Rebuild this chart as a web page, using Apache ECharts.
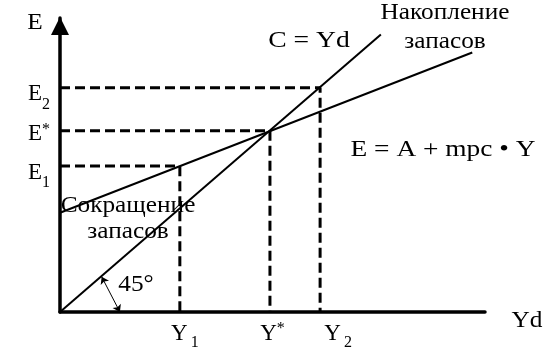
<!DOCTYPE html>
<html>
<head>
<meta charset="utf-8">
<script src="https://cdn.jsdelivr.net/npm/echarts@6/dist/echarts.min.js"></script>
<style>
  html, body { margin: 0; padding: 0; background: #fff; }
  #chart { width: 551px; height: 352px; }
</style>
</head>
<body>
<div id="chart"></div>
<script>
// income levels on the Yd axis: Y1, Y*, Y2
const incomeTicks = [28.2, 49.4, 61.2];
const incomeNames = ['Y1', 'Y*', 'Y2'];
// spending levels on the E axis: E1, E*, E2
const spendTicks = [39.7, 49.3, 61];
const spendNames = ['E1', 'E*', 'E2'];
// 45 degree line C = Yd (end points)
const cLineX = [0, 75.5];
const cLineY = [0, 75.5];
// planned spending line E = A + mpc * Y (end points)
const eLineX = [0, 97];
const eLineY = [27, 70.6];
// the little 45° angle arrow (from the C line down to the axis)
const angleArrow = [[9.8, 9.6], [14.1, 0]];

const FONT = '"Liberation Serif", "Times New Roman", serif';
const chart = echarts.init(document.getElementById('chart'));

const pairs = (xs, ys) => xs.map((x, i) => [x, ys[i]]);

// dashed guide lines: from the E axis across, then down to the Yd axis
const guides = spendTicks.map((e, i) => ({
  type: 'line',
  data: [[0, e], [incomeTicks[i], e], [incomeTicks[i], 0]],
  showSymbol: false,
  lineStyle: { color: '#000', width: 3, type: [10, 5] },
  silent: true
}));

const xLabel = {
  Y1: '{xa|Y}{xs|1}',
  'Y*': '{xb|Y}{xp|*}',
  Y2: '{xc|Y}{xs|2}'
};
const yLabel = {
  E1: '{ml|E}{sb|1}',
  'E*': '{mh|E}{sp|*}',
  E2: '{ml|E}{sb|2}'
};
const yRich = {
  // E with a subscript
  ml: { fontFamily: FONT, fontSize: 23, lineHeight: 18, verticalAlign: 'top', padding: [4, 0, 16, 0] },
  sb: { fontFamily: FONT, fontSize: 16, lineHeight: 10, verticalAlign: 'top', padding: [18, 0, 10, 0] },
  // E with a superscript
  mh: { fontFamily: FONT, fontSize: 23, lineHeight: 18, verticalAlign: 'top', padding: [1, 0, 23, 0] },
  sp: { fontFamily: FONT, fontSize: 16, lineHeight: 12, verticalAlign: 'top', padding: [0, 0, 30, 0] }
};

// E1 and E2 sit on the main E axis, E* on an overlaid twin so none get hidden
const yAxisFor = (values, showLine) => ({
  type: 'value',
  min: 0,
  max: 80,
  position: 'left',
  splitLine: { show: false },
  axisTick: { show: false },
  axisLine: {
    show: showLine,
    onZero: false,
    symbol: ['none', 'triangle'],
    symbolSize: [18, 18],
    symbolOffset: [0, -8],
    lineStyle: { color: '#000', width: 3.5 }
  },
  axisLabel: {
    customValues: values,
    hideOverlap: false,
    showMinLabel: true,
    showMaxLabel: true,
    margin: 10,
    color: '#000',
    fontFamily: FONT,
    formatter: v => yLabel[spendNames[spendTicks.indexOf(v)]],
    rich: yRich
  }
});

const option = {
  animation: false,
  grid: { left: 60, right: 66, top: 18, bottom: 40 },
  xAxis: {
    type: 'value',
    min: 0,
    max: 100,
    splitLine: { show: false },
    axisTick: { show: false },
    axisLine: { show: true, lineStyle: { color: '#000', width: 3.5 } },
    axisLabel: {
      customValues: incomeTicks,
      hideOverlap: false,
      showMinLabel: true,
      showMaxLabel: true,
      margin: 8,
      color: '#000',
      fontFamily: FONT,
      formatter: v => xLabel[incomeNames[incomeTicks.indexOf(v)]],
      rich: {
        xa: { fontFamily: FONT, fontSize: 23, lineHeight: 23, verticalAlign: 'top', padding: [2, 3, 0, 10] },
        xb: { fontFamily: FONT, fontSize: 23, lineHeight: 23, verticalAlign: 'top', padding: [2, 0, 0, 5] },
        xc: { fontFamily: FONT, fontSize: 23, lineHeight: 23, verticalAlign: 'top', padding: [2, 3, 0, 36] },
        xs: { fontFamily: FONT, fontSize: 16, lineHeight: 16, verticalAlign: 'top', padding: [15, 0, 0, 0] },
        xp: { fontFamily: FONT, fontSize: 16, lineHeight: 16, verticalAlign: 'top', padding: [1, 0, 0, 0] }
      }
    }
  },
  yAxis: [
    yAxisFor([spendTicks[0], spendTicks[2]], true),
    yAxisFor([spendTicks[1]], false)
  ],
  series: [
    ...guides,
    {
      type: 'line',
      data: pairs(cLineX, cLineY),
      showSymbol: false,
      lineStyle: { color: '#000', width: 2 },
      silent: true,
      markLine: {
        silent: true,
        symbol: ['arrow', 'arrow'],
        symbolSize: 7,
        label: { show: false },
        lineStyle: { color: '#000', width: 1, type: 'solid', curveness: -0.12 },
        data: [[{ coord: angleArrow[0] }, { coord: angleArrow[1] }]]
      }
    },
    {
      type: 'line',
      data: pairs(eLineX, eLineY),
      showSymbol: false,
      lineStyle: { color: '#000', width: 2 },
      silent: true
    }
  ],
  graphic: [
    ['E', 35, 23, 1.1],
    ['Yd', 527, 321, 1.1],
    ['C = Yd', 309, 41, 1.2],
    ['Накопление', 445, 13, 1.1],
    ['запасов', 445, 42, 1.1],
    ['E = A + mpc \u2022 Y', 443, 150, 1.19],
    ['Сокращение', 128, 206, 1.1],
    ['запасов', 128, 232, 1.1],
    ['45°', 136, 285, 1.1]
  ].map(([text, x, y, sx]) => ({
    type: 'text',
    x: x,
    y: y,
    scaleX: sx,
    silent: true,
    style: {
      text: text,
      font: '23px ' + FONT,
      fill: '#000',
      align: 'center',
      verticalAlign: 'middle'
    }
  }))
};

chart.setOption(option);
</script>
</body>
</html>
